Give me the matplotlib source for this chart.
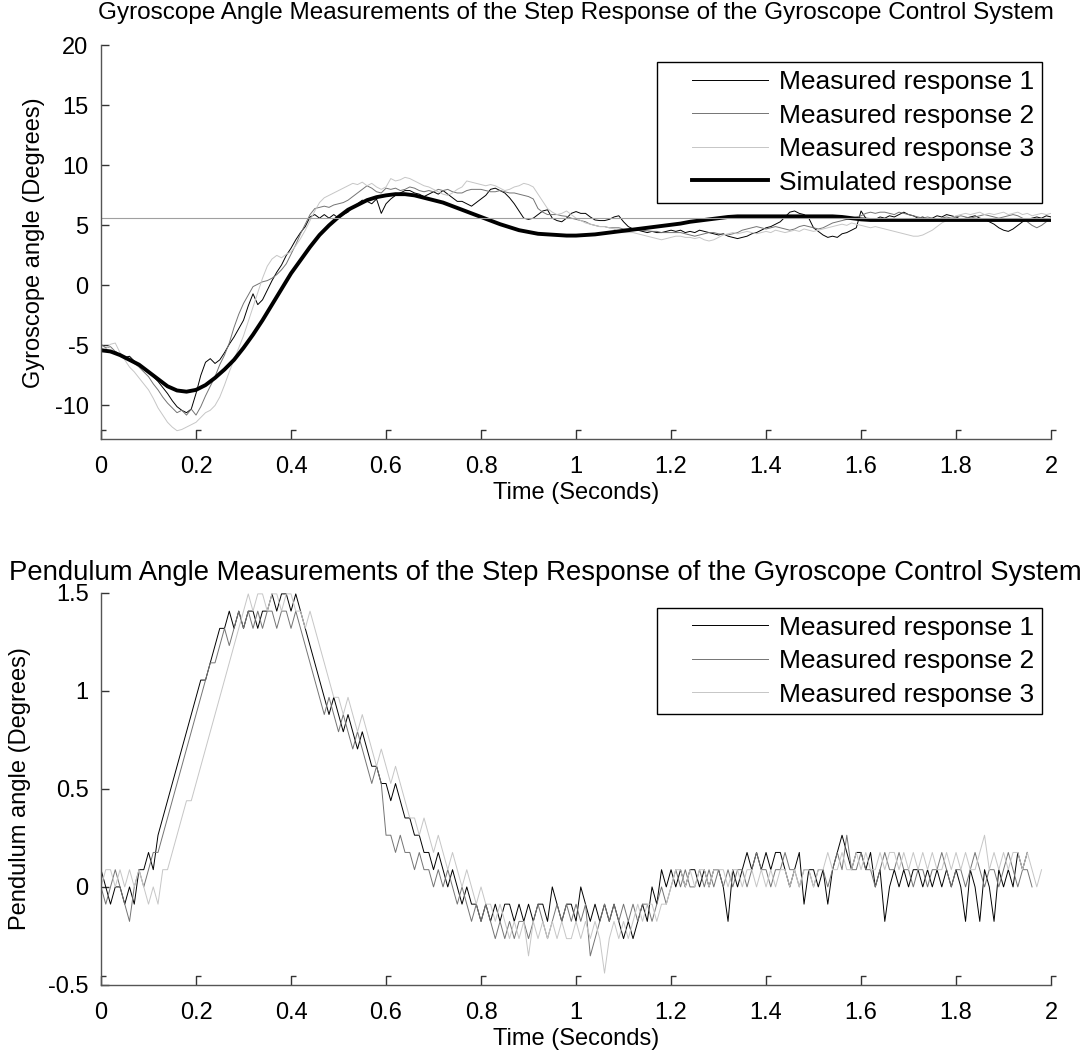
import numpy as np
import matplotlib
matplotlib.use("Agg")
import matplotlib.pyplot as plt
from matplotlib.path import Path
from matplotlib.lines import Line2D
from matplotlib.legend_handler import HandlerLine2D

plt.rcParams['font.family'] = ['Liberation Sans', 'DejaVu Sans']
plt.rcParams['font.size'] = 17
plt.rcParams['axes.unicode_minus'] = False

# sample period of the measurements (s)
dt = 0.01

# gyroscope angle, measured (degrees), one value every 10 ms from t=0 to t=2
gyro_meas1 = [
    -5.3, -5.4, -5.6, -5.5, -5.8, -6.0, -5.9, -6.3, -6.6, -6.9,
    -7.2, -7.6, -8.0, -8.5, -9.0, -9.6, -10.1, -10.4, -10.6, -10.3,
    -9.0, -7.5, -6.4, -6.1, -6.5, -6.2, -5.6, -4.9, -4.3, -3.6,
    -2.9, -1.7, -0.7, -1.6, -1.2, -0.4, 0.4, 1.1, 1.7, 2.5,
    3.1, 3.8, 4.4, 4.9, 5.7, 5.9, 5.6, 5.9, 5.6, 5.9,
    5.6, 5.9, 6.1, 6.5, 6.8, 7.1, 7.0, 6.8, 7.2, 6.0,
    6.8, 7.2, 7.5, 7.7, 7.9, 7.9, 7.7, 7.6, 7.4, 7.6,
    7.8, 7.6, 7.9, 7.6, 7.3, 7.0, 7.0, 6.8, 6.6, 6.9,
    7.2, 7.5, 8.0, 8.1, 7.9, 7.7, 7.3, 6.8, 6.2, 5.6,
    5.5, 5.6, 5.9, 6.2, 6.3, 5.6, 5.4, 5.3, 5.6, 6.0,
    6.15, 6.0, 6.0, 5.7, 5.45, 5.4, 5.4, 5.5, 5.7, 5.8,
    5.3, 4.9, 4.7, 4.6, 4.5, 4.4, 4.5, 4.4, 4.4, 4.5,
    4.6, 4.5, 4.6, 4.4, 4.5, 4.4, 4.6, 4.5, 4.4, 4.3,
    4.2, 4.3, 4.1, 4.0, 3.9, 4.0, 4.1, 4.3, 4.4, 4.6,
    4.8, 4.9, 5.1, 5.3, 5.7, 6.1, 6.2, 6.0, 5.9, 5.6,
    4.8, 4.5, 4.2, 4.0, 4.1, 4.0, 4.3, 4.4, 4.6, 4.8,
    6.2, 5.6, 5.5, 5.5, 5.7, 5.6, 5.8, 5.7, 5.9, 6.1,
    5.9, 5.8, 5.6, 5.7, 5.5, 5.6, 5.8, 5.7, 5.9, 5.8,
    5.7, 5.5, 5.6, 5.7, 5.8, 5.6, 5.5, 5.3, 5.1, 4.8,
    4.6, 4.5, 4.7, 5.0, 5.3, 5.5, 5.6, 5.7, 5.6, 5.8,
    5.7,
]
gyro_meas2 = [
    -4.9, -5.2, -5.1, -5.5, -5.8, -6.0, -6.2, -6.5, -6.8, -7.2,
    -7.6, -8.2, -8.7, -9.3, -9.8, -10.2, -10.6, -10.4, -10.8, -10.3,
    -10.8, -10.1, -9.2, -8.4, -7.6, -6.6, -5.8, -4.8, -3.5, -2.4,
    -1.5, -0.8, -0.1, 0.1, 0.3, 0.4, 0.6, 0.9, 1.3, 1.8,
    2.6, 3.4, 4.3, 5.1, 5.9, 6.4, 6.5, 6.6, 6.5, 6.7,
    6.8, 6.9, 7.1, 7.4, 7.7, 8.0, 8.3, 8.1, 7.8, 7.7,
    8.1, 8.0, 8.1, 7.9, 8.0, 8.2, 8.1, 7.9, 7.8, 7.9,
    7.8, 8.0, 7.9, 8.0, 7.8, 7.7, 7.7, 7.9, 8.0, 8.0,
    8.0, 7.9, 7.8, 7.8, 7.9, 7.8, 7.7, 7.7, 7.6, 7.5,
    7.4, 7.2, 6.4, 6.1, 5.9, 5.9, 5.9, 5.8, 5.75, 5.6,
    5.5, 5.4, 5.3, 5.1, 5.0, 4.9, 4.9, 4.8, 4.8, 4.8,
    4.7, 4.7, 4.7, 4.6, 4.6, 4.55, 4.5, 4.5, 4.4, 4.4,
    4.4, 4.4, 4.4, 4.3, 4.2, 4.1, 4.2, 4.3, 4.4, 4.4,
    4.3, 4.25, 4.2, 4.3, 4.4, 4.6, 4.7, 4.8, 4.9, 4.8,
    4.7, 4.8, 4.9, 4.8, 4.7, 4.6, 4.7, 4.9, 5.0, 4.9,
    4.8, 4.7, 4.8, 5.0, 5.2, 5.3, 5.4, 5.5, 5.6, 5.7,
    5.8, 6.0, 6.1, 6.0, 6.1, 6.1, 6.0, 5.9, 6.1, 6.0,
    5.9, 5.8, 5.7, 5.6, 5.7, 5.6, 5.5, 5.6, 5.7, 5.6,
    5.7, 5.8, 5.7, 5.6, 5.7, 5.8, 5.9, 5.8, 5.7, 5.6,
    5.7, 5.8, 5.9, 5.8, 5.6, 5.3, 5.0, 4.8, 5.0, 5.3,
    5.5,
]
gyro_meas3 = [
    -5.6, -5.3, -4.9, -4.8, -5.6, -6.2, -6.8, -7.2, -7.7, -8.2,
    -8.7, -9.4, -10.2, -10.8, -11.4, -11.8, -12.1, -12.0, -11.8, -11.6,
    -11.4, -11.0, -10.6, -10.4, -10.0, -9.3, -8.3, -7.2, -6.2, -5.2,
    -4.2, -3.0, -1.8, -0.6, 0.6, 1.6, 2.2, 2.5, 2.3, 2.6,
    2.8, 3.3, 3.9, 4.6, 5.4, 6.2, 6.9, 7.3, 7.5, 7.7,
    7.9, 8.1, 8.3, 8.5, 8.4, 8.6, 8.3, 8.5, 8.2, 8.0,
    8.2, 8.9, 8.7, 8.8, 9.0, 8.9, 8.7, 8.5, 8.3, 8.2,
    8.0, 7.8, 7.6, 7.5, 7.7, 8.0, 8.2, 8.7, 8.6, 8.5,
    8.4, 8.3, 8.4, 8.3, 8.1, 7.9, 8.0, 8.2, 8.3, 8.5,
    8.4, 8.2, 7.6, 7.0, 6.4, 6.1, 5.9, 6.0, 6.2, 5.9,
    5.6, 5.4, 5.2, 5.1, 5.0, 4.9, 4.9, 4.8, 4.7, 4.4,
    4.4, 4.4, 4.4, 4.3, 4.2, 4.1, 4.0, 3.9, 3.8, 3.9,
    4.0, 4.1, 4.1, 4.0, 4.0, 3.9, 4.0, 3.8, 3.7, 3.8,
    4.0, 4.2, 4.3, 4.4, 4.3, 4.4, 4.5, 4.4, 4.3, 4.4,
    4.5, 4.4, 4.6, 4.5, 4.4, 4.5, 4.6, 4.5, 4.7, 4.6,
    4.5, 4.6, 4.7, 4.8, 4.9, 5.0, 5.1, 5.0, 5.2, 5.1,
    5.0, 4.9, 4.8, 4.9, 4.8, 4.7, 4.6, 4.5, 4.4, 4.3,
    4.2, 4.1, 4.1, 4.2, 4.4, 4.6, 4.9, 5.2, 5.4, 5.6,
    5.8, 5.9, 6.0, 5.9, 6.0, 6.1, 5.9, 6.0, 5.9, 6.0,
    6.1, 5.9, 6.0, 6.1, 5.9, 6.0, 5.8, 5.9, 6.0, 5.9,
    6.0,
]

# simulated gyroscope angle (degrees), every 20 ms
sim_dt = 0.02
gyro_sim = [
    -5.4, -5.5, -5.8, -6.2, -6.6, -7.2, -7.8, -8.4, -8.75, -8.85,
    -8.7, -8.3, -7.7, -7.0, -6.2, -5.2, -4.1, -2.9, -1.6, -0.3,
    1.0, 2.1, 3.2, 4.2, 5.0, 5.7, 6.3, 6.7, 7.1, 7.35,
    7.5, 7.6, 7.6, 7.5, 7.3, 7.1, 6.9, 6.6, 6.3, 6.0,
    5.7, 5.4, 5.1, 4.85, 4.6, 4.45, 4.3, 4.25, 4.2, 4.15,
    4.15, 4.2, 4.25, 4.35, 4.45, 4.55, 4.65, 4.75, 4.85, 4.95,
    5.05, 5.15, 5.3, 5.4, 5.5, 5.6, 5.7, 5.75, 5.75, 5.75,
    5.75, 5.75, 5.75, 5.75, 5.75, 5.75, 5.75, 5.75, 5.7, 5.6,
    5.5, 5.45, 5.45, 5.45, 5.45, 5.45, 5.45, 5.45, 5.45, 5.45,
    5.45, 5.45, 5.45, 5.45, 5.45, 5.45, 5.45, 5.45, 5.45, 5.45,
    5.45,
]
gyro_ref = 5.6

# pendulum angle, encoder counts every 10 ms (one count = 360/4096 degrees)
count_deg = 360.0 / 4096
pend_meas1 = [
    1, 0, -1, 0, 0, -1, 0, -1, 1, 1,
    2, 1, 3, 4, 5, 6, 7, 8, 9, 10,
    11, 12, 12, 13, 14, 15, 15, 16, 15, 16,
    15, 16, 16, 15, 16, 16, 17, 16, 17, 17,
    16, 17, 16, 15, 14, 13, 12, 11, 10, 11,
    10, 9, 10, 9, 8, 9, 8, 7, 7, 6,
    6, 5, 6, 5, 4, 4, 3, 3, 2, 2,
    1, 2, 1, 0, 1, 0, -1, 0, -1, -1,
    -2, -1, -2, -1, -2, -1, -1, -2, -1, -2,
    -1, -2, -1, -1, -2, 0, -1, -2, -1, -1,
    -2, 0, -1, -2, -1, -2, -1, -2, -1, -2,
    -3, -2, -3, -2, -1, -2, 0, -1, 1, 0,
    1, 0, 1, 0, 1, 1, 0, 1, 0, 1,
    1, 0, -2, 1, 0, 1, 2, 1, 2, 1,
    2, 1, 2, 2, 1, 0, 1, 2, -1, 1,
    1, 0, 1, -1, 1, 2, 3, 2, 1, 2,
    2, 1, 2, 0, 1, -2, 0, 1, 0, 1,
    0, 1, 1, 0, 1, 0, 1, 0, 1, 0,
    1, 0, -2, 1, 0, -2, 1, 0, -2, 1,
    0, 1, 0, 2, 1, 2,
]
pend_meas2 = [
    0, -1, 0, 1, 0, -1, -2, 0, 1, 0,
    1, 2, 2, 3, 4, 5, 6, 7, 8, 9,
    10, 11, 12, 13, 13, 14, 15, 14, 15, 16,
    15, 16, 15, 16, 15, 16, 16, 15, 16, 16,
    15, 16, 15, 14, 13, 12, 11, 10, 11, 10,
    9, 10, 9, 8, 9, 8, 7, 6, 7, 6,
    3, 3, 2, 3, 2, 2, 1, 2, 1, 1,
    0, 1, 0, 1, 0, -1, 0, -1, -2, -1,
    -2, -1, -2, -3, -2, -3, -2, -3, -2, -2,
    -3, -2, -1, -2, -3, -2, -1, -2, -1, -2,
    -1, -2, -1, -4, -3, -2, -1, -2, -1, -2,
    -1, -2, -1, -2, -1, -1, -2, -1, 0, -1,
    0, 1, 0, 1, 0, 0, 1, 0, 1, 0,
    1, 0, 1, 0, 1, 1, 0, 1, 2, 1,
    1, 0, 1, 1, 2, 1, 1, 0, 1, 1,
    0, 1, 1, 0, 1, 2, 1, 3, 1, 1,
    2, 1, 1, 0, 1, 2, 1, 1, 2, 1,
    1, 0, 1, 1, 0, 1, 1, 2, 1, 0,
    1, 1, 0, 1, 2, 1, 0, 1, 1, 0,
    1, 2, 1, 0, 1, 1, 0,
]
pend_meas3 = [
    0, 1, 1, 0, 1, 0, 1, 0, 1, 0,
    -1, 0, -1, 1, 1, 2, 3, 4, 5, 5,
    6, 7, 8, 9, 10, 11, 12, 13, 14, 15,
    16, 17, 16, 17, 17, 16, 17, 17, 16, 17,
    17, 16, 16, 15, 16, 15, 14, 13, 12, 11,
    11, 10, 11, 10, 9, 10, 9, 8, 7, 8,
    7, 6, 7, 6, 5, 4, 4, 3, 4, 3,
    2, 3, 2, 1, 2, 1, 0, 1, 0, -1,
    0, -1, -1, -2, -1, -2, -3, -2, -3, -2,
    -4, -2, -3, -2, -3, -2, -3, -2, -3, -3,
    -2, -3, -2, -3, -2, -3, -5, -3, -2, -3,
    -2, -3, -2, -1, -2, -1, -1, -2, -1, -1,
    0, 1, 1, 0, 1, 0, 1, 1, 0, 1,
    1, 1, 0, 1, 1, 0, 1, 1, 0, 1,
    0, 1, 0, 1, 1, 0, 1, 0, 1, 1,
    0, 1, 1, 2, 1, 1, 2, 1, 1, 2,
    1, 2, 1, 1, 2, 1, 2, 2, 1, 2,
    1, 2, 1, 2, 1, 2, 1, 1, 2, 1,
    2, 1, 2, 1, 1, 2, 3, 1, 2, 1,
    2, 1, 2, 2, 1, 2, 1, 0, 1,
]

gyro_labels = ['Measured response 1', 'Measured response 2', 'Measured response 3',
               'Simulated response']
colors = ['#000000', '#747474', '#c6c6c6']
xtick_vals = [0, 0.2, 0.4, 0.6, 0.8, 1, 1.2, 1.4, 1.6, 1.8, 2]

# tick mark with a small hook, as drawn by the original export
hook = Path([(0, 0), (0, 1), (0.5, 1)], [Path.MOVETO, Path.LINETO, Path.LINETO])


class PaddedLine(HandlerLine2D):
    # legend sample line that starts a bit right of the frame
    def create_artists(self, legend, orig_handle, xdescent, ydescent, width,
                       height, fontsize, trans):
        artists = super().create_artists(legend, orig_handle, xdescent, ydescent,
                                         width, height, fontsize, trans)
        for a in artists:
            if isinstance(a, Line2D) and a.get_linestyle() not in ('None', ''):
                xd = np.asarray(a.get_xdata(), float)
                a.set_xdata(np.linspace(xd[0] + 0.26 * width, xd[-1], len(xd)))
        return artists


def style_axes(ax):
    for side in ['top', 'right']:
        ax.spines[side].set_visible(False)
    for side in ['left', 'bottom']:
        ax.spines[side].set_color('#555555')
        ax.spines[side].set_linewidth(1.0)
    ax.tick_params(direction='in', length=6, width=1, color='#333333', pad=9)
    ax.tick_params(axis='x', length=0, pad=12)
    ax.set_xlim(0, 2)
    ax.set_xticks(xtick_vals)
    ax.set_xticklabels(['%g' % v for v in xtick_vals])
    ax.set_xlabel('Time (Seconds)', labelpad=3)
    ax.plot(xtick_vals, [0] * len(xtick_vals), linestyle='none', marker=hook,
            markersize=13, markeredgewidth=1.0, markeredgecolor='#333333',
            markerfacecolor='none', transform=ax.get_xaxis_transform(),
            clip_on=False)


def add_legend(ax, handles, labels, top):
    leg = ax.legend(handles, labels, loc='upper right',
                    bbox_to_anchor=(0.9905, top), fancybox=False, framealpha=1,
                    edgecolor='black', fontsize=19, handlelength=3.9,
                    handletextpad=0.4, labelspacing=0.36, borderpad=0.3,
                    borderaxespad=0, handler_map={Line2D: PaddedLine()})
    leg.get_frame().set_linewidth(1.0)
    return leg


fig = plt.figure(figsize=(10.92, 10.53), dpi=100)

# top: gyroscope
ax1 = fig.add_axes([0.0925, 0.583, 0.87, 0.374])
lines1 = []
for vals, c in zip([gyro_meas1, gyro_meas2, gyro_meas3], colors):
    t = np.arange(len(vals)) * dt
    lines1 += ax1.plot(t, vals, color=c, lw=0.7)
ts = np.arange(len(gyro_sim)) * sim_dt
lines1 += ax1.plot(ts, gyro_sim, color='black', lw=2.8)
ax1.axhline(gyro_ref, color='#a0a0a0', lw=0.8)
ax1.set_ylim(-12.8, 20)
ax1.set_yticks([-10, -5, 0, 5, 10, 15, 20])
ax1.set_ylabel('Gyroscope angle (Degrees)', labelpad=7)
ax1.set_title('Gyroscope Angle Measurements of the Step Response of the Gyroscope Control System',
              pad=19, fontsize=17.5)
style_axes(ax1)
add_legend(ax1, lines1, gyro_labels, 0.957)

# bottom: pendulum
ax2 = fig.add_axes([0.0925, 0.0646, 0.87, 0.3725])
lines2 = []
for vals, c in zip([pend_meas1, pend_meas2, pend_meas3], colors):
    t = np.arange(len(vals)) * dt
    lines2 += ax2.plot(t, np.array(vals) * count_deg, color=c, lw=0.7)
ax2.set_ylim(-0.5, 1.5)
ax2.set_yticks([-0.5, 0, 0.5, 1, 1.5])
ax2.set_yticklabels(['-0.5', '0', '0.5', '1', '1.5'])
ax2.set_ylabel('Pendulum angle (Degrees)', labelpad=12)
ax2.set_title('Pendulum Angle Measurements of the Step Response of the Gyroscope Control System',
              pad=9, fontsize=19.8, x=0.468)
style_axes(ax2)
add_legend(ax2, lines2, gyro_labels[:3], 0.962)

fig.savefig('out.png', dpi=100)
